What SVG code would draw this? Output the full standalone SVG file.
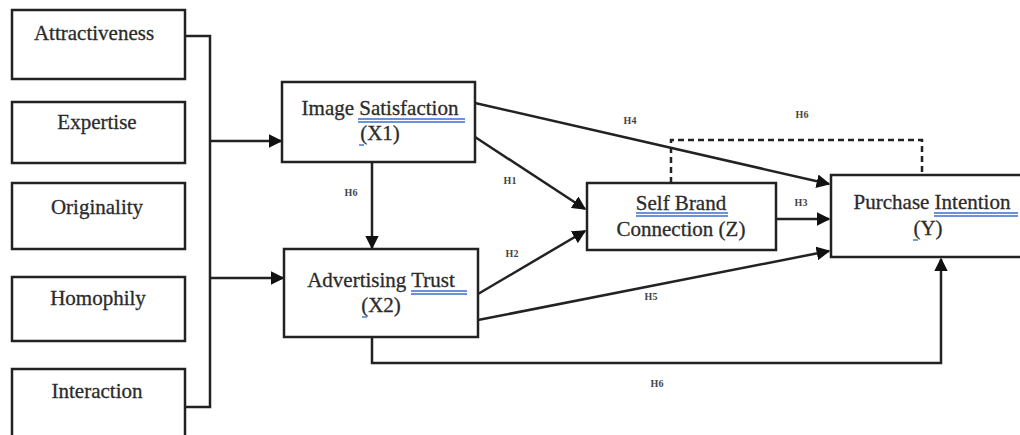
<svg xmlns="http://www.w3.org/2000/svg" width="1020" height="435" viewBox="0 0 1020 435">
<style>
.box{fill:#fff;stroke:#222;stroke-width:2.5}
.t{font-family:"Liberation Serif","Times New Roman",serif;font-size:21px;fill:#2b2b2b;stroke:#2b2b2b;stroke-width:0.3;text-anchor:middle}
.lbl{font-family:"Liberation Serif","Times New Roman",serif;font-size:10px;font-weight:bold;fill:#444;text-anchor:middle}
.ln{fill:none;stroke:#222;stroke-width:2.5}
.dash{fill:none;stroke:#222;stroke-width:2.5;stroke-dasharray:6 4}
.ul{stroke:#3a6fd0;stroke-width:1.4}
</style>
<defs>
<marker id="ah" viewBox="0 0 10 10" refX="9" refY="5" markerWidth="5.5" markerHeight="5.5" orient="auto" markerUnits="strokeWidth">
<path d="M0,0 L10,5 L0,10 z" fill="#111"/>
</marker>
</defs>
<rect width="1020" height="435" fill="#fff"/>
<g id="connectors">
<path class="ln" d="M185,36 H210 V407 H185"/>
<path class="ln" d="M210,141 H281" marker-end="url(#ah)"/>
<path class="ln" d="M210,278 H283" marker-end="url(#ah)"/>
<path class="ln" d="M372,162 V248" marker-end="url(#ah)"/>
<path class="ln" d="M475,103 L829,184" marker-end="url(#ah)"/>
<path class="ln" d="M475,137 L585,209" marker-end="url(#ah)"/>
<path class="ln" d="M478,294 L585,231" marker-end="url(#ah)"/>
<path class="ln" d="M776,219 L829,219" marker-end="url(#ah)"/>
<path class="ln" d="M478,320 L829,251" marker-end="url(#ah)"/>
<path class="dash" d="M671,183 V140 H922 V175"/>
<path class="ln" d="M372,337 V363 H941 V259" marker-end="url(#ah)"/>
<text class="lbl" x="630" y="124">H4</text>
<text class="lbl" x="802" y="118">H6</text>
<text class="lbl" x="351" y="196">H6</text>
<text class="lbl" x="510" y="184">H1</text>
<text class="lbl" x="512" y="257">H2</text>
<text class="lbl" x="801" y="206">H3</text>
<text class="lbl" x="651" y="300">H5</text>
<text class="lbl" x="657" y="387">H6</text>
</g>
<g id="attractiveness"><rect class="box" x="12" y="10" width="173" height="69"/><text class="t" x="94" y="40">Attractiveness</text></g>
<g id="expertise"><rect class="box" x="12" y="102" width="173" height="61"/><text class="t" x="97" y="129">Expertise</text></g>
<g id="originality"><rect class="box" x="12" y="183" width="173" height="66"/><text class="t" x="97" y="214">Originality</text></g>
<g id="homophily"><rect class="box" x="12" y="277" width="173" height="64"/><text class="t" x="98" y="305">Homophily</text></g>
<g id="interaction"><rect class="box" x="12" y="369" width="173" height="80"/><text class="t" x="97" y="398">Interaction</text></g>
<g id="x1"><rect class="box" x="282" y="82" width="193" height="80"/>
<text class="t" x="380" y="115">Image Satisfaction</text><text class="t" x="380" y="140">(X1)</text>
<line class="ul" x1="358" y1="119" x2="465" y2="119"/><line class="ul" x1="358" y1="122" x2="465" y2="122"/>
<line class="ul" x1="359" y1="145" x2="364" y2="145"/></g>
<g id="x2"><rect class="box" x="284" y="249" width="194" height="88"/>
<text class="t" x="381" y="287">Advertising Trust</text><text class="t" x="381" y="312">(X2)</text>
<line class="ul" x1="411" y1="291" x2="467" y2="291"/><line class="ul" x1="411" y1="294" x2="467" y2="294"/>
<line class="ul" x1="362" y1="317" x2="367" y2="317"/></g>
<g id="z"><rect class="box" x="587" y="183" width="189" height="67"/>
<text class="t" x="681" y="210">Self Brand</text><text class="t" x="681" y="236">Connection (Z)</text>
<line class="ul" x1="636" y1="213" x2="728" y2="213"/><line class="ul" x1="636" y1="216" x2="728" y2="216"/></g>
<g id="y"><rect class="box" x="831" y="175" width="200" height="82"/>
<text class="t" x="932" y="209">Purchase Intention</text><text class="t" x="928" y="235">(Y)</text>
<line class="ul" x1="934" y1="213" x2="1018" y2="213"/><line class="ul" x1="934" y1="216" x2="1018" y2="216"/>
<line class="ul" x1="913" y1="240" x2="918" y2="240"/></g>
</svg>
